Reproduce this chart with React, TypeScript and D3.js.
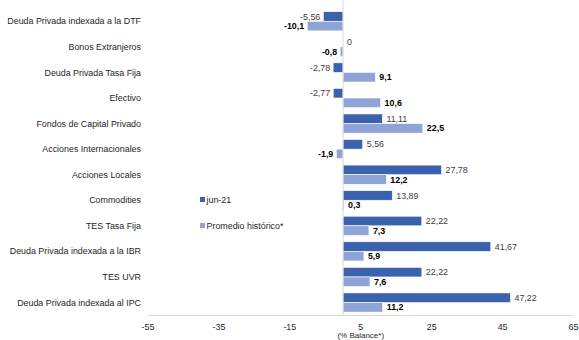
import React from "react";
import * as d3 from "d3";

const categories = [
  "Deuda Privada indexada a la DTF",
  "Bonos Extranjeros",
  "Deuda Privada Tasa Fija",
  "Efectivo",
  "Fondos de Capital Privado",
  "Acciones Internacionales",
  "Acciones Locales",
  "Commodities",
  "TES Tasa Fija",
  "Deuda Privada indexada a la IBR",
  "TES UVR",
  "Deuda Privada indexada al IPC",
];
const jun21 = [-5.56, 0, -2.78, -2.77, 11.11, 5.56, 27.78, 13.89, 22.22, 41.67, 22.22, 47.22];
const promedio = [-10.1, -0.8, 9.1, 10.6, 22.5, -1.9, 12.2, 0.3, 7.3, 5.9, 7.6, 11.2];
const seriesNames = ["jun-21", "Promedio histórico*"];
const ticks = [-55, -35, -15, 5, 25, 45, 65];
const axisTitle = "(% Balance*)";

const W = 579;
const H = 340;
const DARK = "#3A62AD";
const LIGHT = "#8FA3D6";
const FONT = "'Liberation Sans', Arial, sans-serif";
const FS = 8.9;

const fmt = (v: number) => String(v).replace(".", ",");

export default function App() {
  const x = d3.scaleLinear().domain([-55, 65]).range([148, 573.5]);
  const y = d3.scaleBand<string>().domain(categories).range([8.5, 315.3]).padding(0);
  const bw = y.bandwidth();
  const bh = bw * 0.375;
  const x0 = x(0);
  const axisY = 315.5;

  const series = [
    { name: seriesNames[0], values: jun21, color: DARK, labelColor: "#404040", weight: "normal" },
    { name: seriesNames[1], values: promedio, color: LIGHT, labelColor: "#000000", weight: "bold" },
  ];

  return (
    <svg
      width={W}
      height={H}
      style={{ position: "absolute", left: 0, top: 0, background: "#fff" }}
      fontFamily={FONT}
    >
      <rect x={0} y={0} width={W} height={H} fill="#fff" />
      {categories.map((c) => (
        <text
          key={c}
          x={141}
          y={(y(c) as number) + bw / 2}
          dy="0.35em"
          textAnchor="end"
          fontSize={FS}
          fill="#262626"
        >
          {c}
        </text>
      ))}
      {series.map((s, si) =>
        categories.map((c, i) => {
          const v = s.values[i];
          const top = (y(c) as number) + bw / 2 - bh + si * bh;
          const xa = Math.min(x(v), x0);
          const w = Math.abs(x(v) - x0);
          return (
            <rect
              key={s.name + c}
              x={xa}
              y={top}
              width={w}
              height={bh}
              fill={s.color}
              stroke="#ffffff"
              strokeWidth={0.6}
            />
          );
        })
      )}
      <line x1={x0} x2={x0} y1={0} y2={axisY} stroke="#D9D9D9" strokeWidth={1} />
      <line x1={x(-55)} x2={x(65)} y1={axisY} y2={axisY} stroke="#D9D9D9" strokeWidth={1} />
      {series.map((s, si) =>
        categories.map((c, i) => {
          const v = s.values[i];
          const cy = (y(c) as number) + bw / 2 - bh + si * bh + bh / 2;
          const neg = v < 0;
          return (
            <text
              key={"l" + s.name + c}
              x={neg ? x(v) - 3 : x(v) + 4}
              y={cy}
              dy="0.35em"
              textAnchor={neg ? "end" : "start"}
              fontSize={FS}
              fontWeight={s.weight}
              fill={s.labelColor}
            >
              {fmt(v)}
            </text>
          );
        })
      )}
      {ticks.map((t) => (
        <text key={t} x={x(t)} y={329.5} textAnchor="middle" fontSize={FS} fill="#262626">
          {t}
        </text>
      ))}
      <text x={(x(-55) + x(65)) / 2} y={338} textAnchor="middle" fontSize={8} fill="#262626">
        {axisTitle}
      </text>
      {series.map((s, si) => (
        <g key={"lg" + s.name} transform={`translate(200, ${200 + si * 26})`}>
          <rect x={0} y={-3} width={5} height={5} fill={s.color} />
          <text x={6.5} y={0} dy="0.35em" fontSize={FS} fill="#262626">
            {s.name}
          </text>
        </g>
      ))}
    </svg>
  );
}
